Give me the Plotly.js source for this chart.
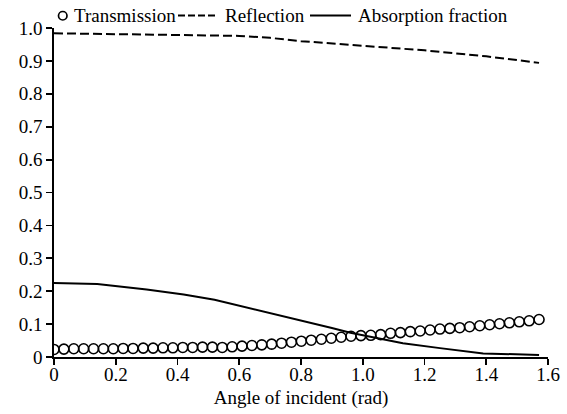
<!DOCTYPE html>
<html>
<head>
<meta charset="utf-8">
<script src="https://cdn.plot.ly/plotly-3.0.1.min.js"></script>
<style>html,body{margin:0;padding:0;background:#fff;}#chart{width:567px;height:414px;}</style>
</head>
<body>
<div id="chart"></div>
<script>
var transAngle = [0.000,0.032,0.064,0.096,0.128,0.160,0.192,0.224,0.256,0.289,
  0.321,0.353,0.385,0.417,0.449,0.481,0.513,0.545,0.577,0.609,
  0.641,0.673,0.705,0.737,0.769,0.801,0.833,0.866,0.898,0.930,
  0.962,0.994,1.026,1.058,1.090,1.122,1.154,1.186,1.218,1.250,
  1.282,1.314,1.346,1.379,1.411,1.443,1.475,1.507,1.539,1.571];
var transmission = [0.023,0.024,0.025,0.025,0.025,0.025,0.025,0.026,0.026,0.027,
  0.027,0.028,0.028,0.029,0.029,0.030,0.030,0.029,0.031,0.033,
  0.035,0.037,0.039,0.042,0.045,0.048,0.051,0.054,0.057,0.060,
  0.063,0.065,0.066,0.068,0.072,0.074,0.077,0.079,0.082,0.085,
  0.087,0.089,0.092,0.095,0.098,0.101,0.104,0.107,0.110,0.114];
var reflAngle = [0, 0.2, 0.4, 0.6, 0.7, 0.8, 1.0, 1.2, 1.4, 1.571];
var reflection = [0.984, 0.982, 0.979, 0.976, 0.970, 0.960, 0.946, 0.932, 0.914, 0.894];
var absAngle = [0, 0.14, 0.3, 0.42, 0.52, 0.6, 0.7, 0.8, 0.9, 0.96, 1.05, 1.13, 1.25, 1.39, 1.571];
var absorption = [0.225, 0.222, 0.205, 0.190, 0.174, 0.156, 0.135, 0.112, 0.088, 0.074, 0.056, 0.042, 0.027, 0.011, 0.006];
var seriesNames = ['Transmission', 'Reflection', 'Absorption fraction'];
var xTicks = [0, 0.2, 0.4, 0.6, 0.8, 1.0, 1.2, 1.4, 1.6];
var xTickText = ['0','0.2','0.4','0.6','0.8','1.0','1.2','1.4','1.6'];
var yTicks = [0,0.1,0.2,0.3,0.4,0.5,0.6,0.7,0.8,0.9,1.0];
var yTickText = ['0','0.1','0.2','0.3','0.4','0.5','0.6','0.7','0.8','0.9','1.0'];

var font = '"Liberation Serif", "Times New Roman", serif';
var FS = 19;
var L = 54, R = 19, T = 28, B = 57, W = 567, H = 414;
var pw = W - L - R, ph = H - T - B;
function px(x) { return (x - L) / pw; }
function py(y) { return (H - B - y) / ph; }

var data = [
  {x: transAngle, y: transmission, name: seriesNames[0], type: 'scatter', mode: 'markers',
   marker: {symbol: 'circle-open', size: 10, color: '#000', line: {width: 1.6, color: '#000'}}},
  {x: reflAngle, y: reflection, name: seriesNames[1], type: 'scatter', mode: 'lines',
   line: {color: '#000', width: 2, dash: '9px,4px'}},
  {x: absAngle, y: absorption, name: seriesNames[2], type: 'scatter', mode: 'lines',
   line: {color: '#000', width: 2}}
];

var legY = 15.5;
var shapes = [
  {type: 'circle', xref: 'paper', yref: 'paper', x0: px(58.5), x1: px(67), y0: py(20), y1: py(11.5),
   line: {color: '#000', width: 1.7}},
  {type: 'line', xref: 'paper', yref: 'paper', x0: px(178), x1: px(217), y0: py(legY), y1: py(legY),
   line: {color: '#000', width: 2, dash: '7px,3px'}},
  {type: 'line', xref: 'paper', yref: 'paper', x0: px(310), x1: px(351), y0: py(legY), y1: py(legY),
   line: {color: '#000', width: 2}}
];
var annFont = {family: font, size: FS, color: '#000'};
var annotations = [
  {text: seriesNames[0], xref: 'paper', yref: 'paper', x: px(73), y: py(legY), xanchor: 'left', yanchor: 'middle', showarrow: false, font: annFont, borderpad: 0},
  {text: seriesNames[1], xref: 'paper', yref: 'paper', x: px(224), y: py(legY), xanchor: 'left', yanchor: 'middle', showarrow: false, font: annFont, borderpad: 0},
  {text: seriesNames[2], xref: 'paper', yref: 'paper', x: px(357), y: py(legY), xanchor: 'left', yanchor: 'middle', showarrow: false, font: annFont, borderpad: 0}
];

var layout = {
  width: W, height: H,
  margin: {l: L, r: R, t: T, b: B},
  paper_bgcolor: '#fff', plot_bgcolor: '#fff',
  font: {family: font, size: FS, color: '#000'},
  showlegend: false,
  shapes: shapes,
  annotations: annotations,
  xaxis: {range: [0, 1.6], tickvals: xTicks, ticktext: xTickText, showgrid: false, zeroline: false,
          showline: true, linecolor: '#000', linewidth: 1.8, ticks: 'outside', ticklen: 6, tickwidth: 1.8, tickcolor: '#000',
          ticklabelstandoff: -7,
          title: {text: 'Angle of incident (rad)', font: {family: font, size: FS}, standoff: 7},
          tickfont: {family: font, size: FS}},
  yaxis: {range: [0, 1.0], tickvals: yTicks, ticktext: yTickText, showgrid: false, zeroline: false,
          showline: true, linecolor: '#000', linewidth: 1.8, ticks: 'outside', ticklen: 6, tickwidth: 1.8, tickcolor: '#000',
          tickfont: {family: font, size: FS}}
};
Plotly.newPlot('chart', data, layout, {displayModeBar: false, staticPlot: true});
</script>
</body>
</html>
